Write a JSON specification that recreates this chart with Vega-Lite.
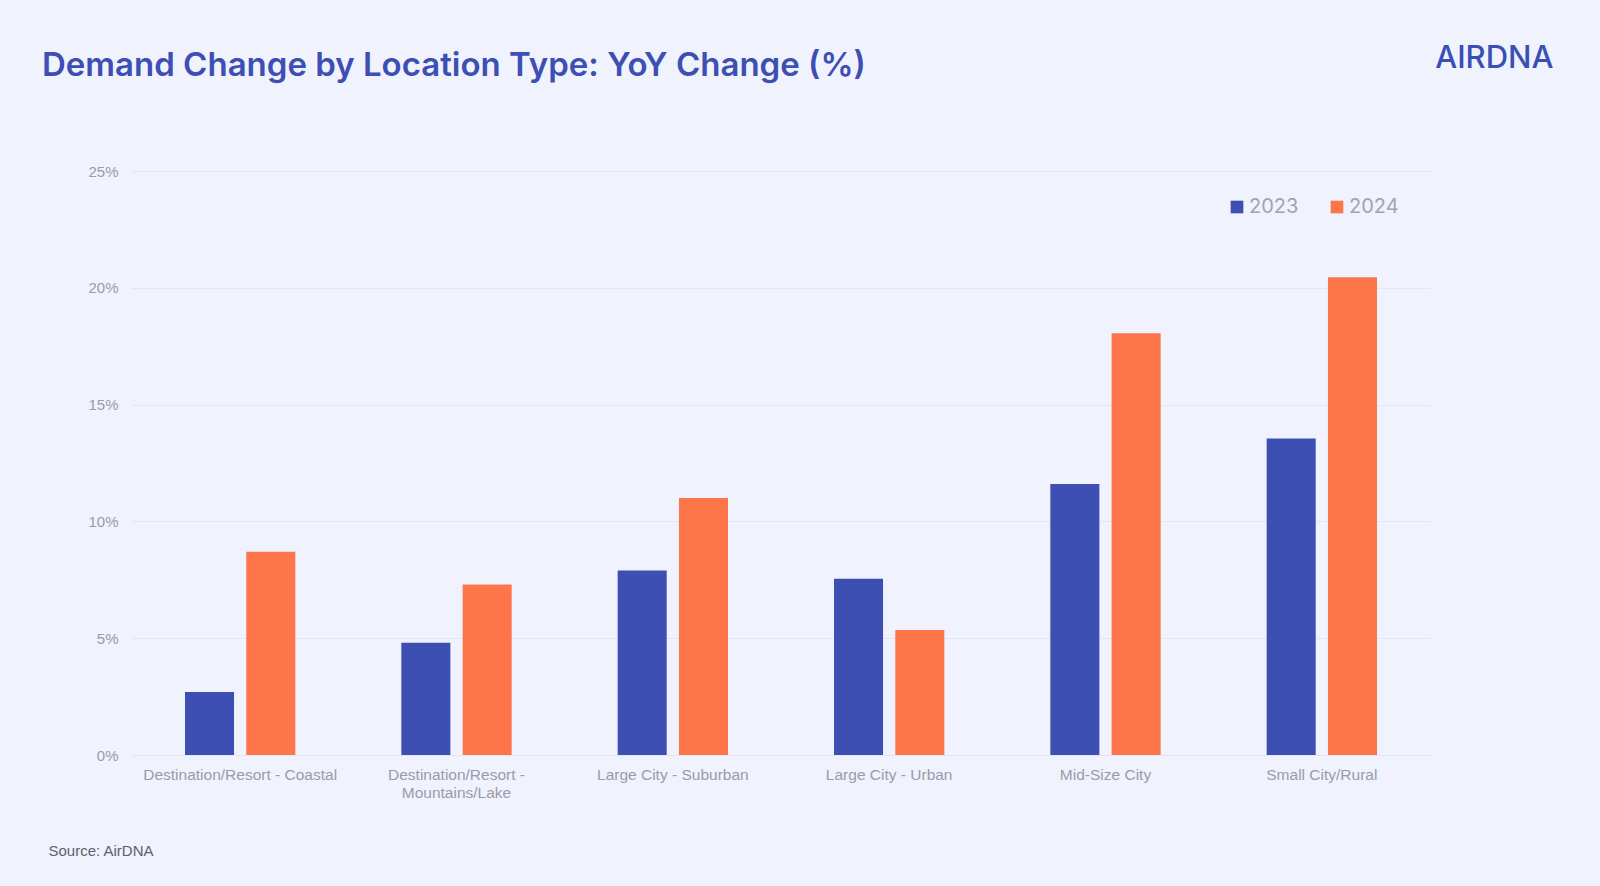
{
  "$schema": "https://vega.github.io/schema/vega-lite/v6.json",
  "width": 1298,
  "height": 584,
  "autosize": {"type": "none"},
  "padding": {"left": 132, "top": 171, "right": 170, "bottom": 131},
  "background": "#f0f2fd",
  "title": {
    "text": "Demand Change by Location Type: YoY Change (%)",
    "anchor": "start",
    "dx": -6,
    "dy": 45,
    "font": "Inter",
    "fontSize": 33,
    "fontWeight": 600,
    "color": "#3d4fb2"
  },
  "data": {
    "values": [
      {"location": "Destination/Resort - Coastal", "year": "2023", "change": 2.7},
      {"location": "Destination/Resort - Coastal", "year": "2024", "change": 8.7},
      {"location": "Destination/Resort - Mountains/Lake", "year": "2023", "change": 4.8},
      {"location": "Destination/Resort - Mountains/Lake", "year": "2024", "change": 7.3},
      {"location": "Large City - Suburban", "year": "2023", "change": 7.9},
      {"location": "Large City - Suburban", "year": "2024", "change": 11.0},
      {"location": "Large City - Urban", "year": "2023", "change": 7.55},
      {"location": "Large City - Urban", "year": "2024", "change": 5.35},
      {"location": "Mid-Size City", "year": "2023", "change": 11.6},
      {"location": "Mid-Size City", "year": "2024", "change": 18.05},
      {"location": "Small City/Rural", "year": "2023", "change": 13.55},
      {"location": "Small City/Rural", "year": "2024", "change": 20.45}
    ]
  },
  "mark": {"type": "bar"},
  "encoding": {
    "x": {
      "field": "location",
      "type": "nominal",
      "sort": null,
      "scale": {"paddingInner": 0.49, "paddingOuter": 0.245},
      "axis": {
        "title": "Source: AirDNA",
        "titleFont": "Liberation Sans",
        "titleFontSize": 15,
        "titleFontWeight": "normal",
        "titleColor": "#5f6070",
        "titleAnchor": "start",
        "titleAlign": "left",
        "titleBaseline": "alphabetic",
        "titleX": -84,
        "titleY": 100,
        "labelAngle": 0,
        "labelFont": "Liberation Sans",
        "labelFontSize": 15.5,
        "labelColor": "#9a9baa",
        "labelPadding": 12,
        "labelLineHeight": 18,
        "labelLimit": 300,
        "labelExpr": "length(datum.label) > 30 ? ['Destination/Resort -', 'Mountains/Lake'] : datum.label",
        "domain": false,
        "ticks": false
      }
    },
    "xOffset": {
      "field": "year",
      "type": "nominal",
      "scale": {"paddingInner": 0.2, "paddingOuter": 0}
    },
    "y": {
      "field": "change",
      "type": "quantitative",
      "scale": {"domain": [0, 25]},
      "axis": {
        "values": [0, 5, 10, 15, 20, 25],
        "labelExpr": "datum.value + '%'",
        "labelFont": "Liberation Sans",
        "labelFontSize": 15,
        "labelColor": "#9a9baa",
        "labelPadding": 14,
        "domain": false,
        "ticks": false,
        "gridColor": "#e3e5f2",
        "gridWidth": 1,
        "title": "AIRDNA",
        "titleAngle": 0,
        "titleFont": "Inter",
        "titleFontSize": 31,
        "titleFontWeight": 500,
        "titleColor": "#3a4fb5",
        "titleAlign": "right",
        "titleBaseline": "alphabetic",
        "titleX": 1421,
        "titleY": -104
      }
    },
    "color": {
      "field": "year",
      "type": "nominal",
      "scale": {"domain": ["2023", "2024"], "range": ["#3d4fb2", "#ff754a"]},
      "legend": {
        "title": null,
        "orient": "none",
        "direction": "horizontal",
        "legendX": 1095,
        "legendY": 26,
        "symbolType": "square",
        "symbolSize": 160,
        "symbolStrokeWidth": 0,
        "labelFont": "Inter",
        "labelFontSize": 20,
        "labelColor": "#a2a2b0",
        "labelOffset": 2,
        "columnPadding": 28
      }
    }
  },
  "config": {
    "view": {"stroke": null}
  }
}
